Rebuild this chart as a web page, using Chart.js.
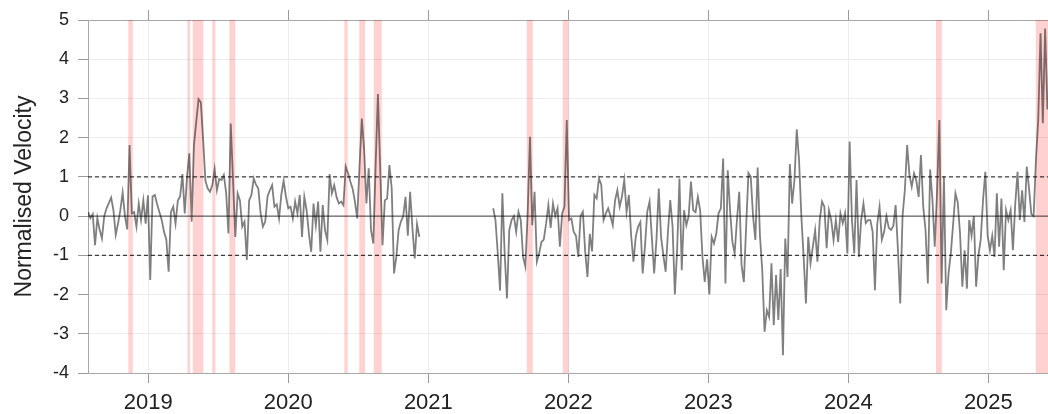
<!DOCTYPE html>
<html>
<head>
<meta charset="utf-8">
<script src="https://cdn.jsdelivr.net/npm/chart.js@4.4.1/dist/chart.umd.min.js"></script>
<style>
  html, body { margin: 0; padding: 0; background: #fff; }
</style>
</head>
<body>
<canvas id="velocityChart" width="1048" height="414"></canvas>
<script>
// x axis in decimal years
const yearTicks = [2019, 2020, 2021, 2022, 2023, 2024, 2025];
const yTicks = [-4, -3, -2, -1, 0, 1, 2, 3, 4, 5];
const xMin = 2018.569, xMax = 2025.426;
const stepDays = 6;

// first run of observations (mid 2018 - late 2020)
const startA = 2018.57;
const velocityA = [
  0.1, -0.05, 0.05, -0.74, -0.05, -0.35, -0.57, 0.0, 0.2, 0.33,
  0.47, 0.15, -0.48, -0.19, 0.15, 0.6, 0.0, -0.34, 1.81, 0.07,
  0.1, -0.27, 0.32, -0.1, 0.4, -0.19, 0.53, -1.63, 0.5, 0.54,
  0.3, 0.1, -0.1, -0.4, -0.6, -1.42, 0.1, 0.24, -0.19, 0.4,
  0.5, 1.07, 0.07, 1.0, 1.6, -0.14, 1.81, 2.4, 2.98, 2.9,
  1.95, 0.9, 0.7, 0.62, 0.79, 1.2, 0.66, 0.95, 0.92, 1.05,
  0.6, -0.44, 2.36, 0.9, -0.53, 0.58, 0.4, -0.27, -0.14, -1.12,
  0.4, 0.54, 0.96, 0.8, 0.7, 0.07, -0.27, -0.14, 0.5, 0.66,
  0.79, 0.24, 0.3, -0.06, 0.55, 0.9, 0.5, 0.2, 0.24, -0.06,
  0.37, 0.07, 0.54, -0.53, 0.49, 0.15, -0.45, -0.91, 0.32, -0.23,
  0.37, -0.91, 0.28, -0.36, -0.61, 1.07, 0.58, 0.79, 0.49, 0.32,
  0.37, 0.28, 1.26, 1.1, 0.88, 0.7, 0.37, -0.06, 1.26, 2.49,
  1.7, 0.32, 1.22, -0.36, -0.7, 1.3, 3.11, 1.2, -0.74, 0.4,
  0.45, 1.3, 0.7, -1.46, -1.04, -0.36, -0.14, 0.0, 0.49, -0.5,
  0.62, -0.3, -1.08, -0.2, -0.53
];

// second run of observations (mid 2021 - mid 2025)
const startB = 2021.463;
const velocityB = [
  0.2, -0.1, -0.95, -1.9, 0.58, -0.95, -2.1, -0.36, -0.1, 0.0,
  -0.4, 0.11, -0.1, -1.04, -1.29, 0.07, 2.02, -0.23, 0.62, -1.16,
  -0.95, -0.66, -0.6, -0.2, 0.28, -0.3, 0.32, 0.0, 0.2, -0.78,
  0.07, 0.24, 2.45, -0.1, -0.06, -0.4, -0.5, -1.04, 0.0, 0.11,
  -0.9, -1.55, -0.45, -0.9, 0.54, 0.45, 0.96, 0.8, -0.1, 0.07,
  0.2, 0.0, -0.23, 0.4, 0.66, 0.24, 0.5, 0.92, 0.11, 0.54,
  -0.5, -1.16, -0.53, -0.27, -0.15, -1.46, -0.78, 0.11, 0.37, -0.55,
  -1.46, -0.6, 0.7, -0.53, -1.0, -1.42, -0.4, 0.41, -0.27, -2.0,
  -0.85, 0.96, -1.38, 0.15, -0.23, 0.0, 0.88, 0.15, 0.1, 0.49,
  0.15, -1.04, -1.68, -1.1, -2.0, -0.53, -0.7, -0.45, 0.07, 0.2,
  1.47, -1.72, 1.17, 0.15, -0.65, -0.95, -0.1, 0.62, -1.25, -1.68,
  -0.27, 1.1, 1.0, 0.0, -0.61, 1.24, -0.5, -1.38, -2.95, -2.4,
  -2.57, -1.2, -2.78, -1.5, -2.65, -1.35, -3.55, -0.57, -1.55, 1.33,
  0.32, 0.92, 2.21, 1.43, 0.0, -1.04, -2.23, -0.53, -1.2, -0.78,
  -0.36, -1.16, -0.1, 0.37, 0.24, -0.82, 0.15, -0.1, -0.61, -0.1,
  -0.66, 0.07, -0.18, 0.07, -0.95, 1.9, -0.1, -0.95, 0.92, -1.04,
  -0.1, 0.32, -0.18, -0.1, -0.1, -0.4, -1.89, -0.2, 0.24, -0.6,
  -0.4, 0.0, -0.3, -0.35, -0.25, 0.28, -0.87, -2.23, 0.0, 0.66,
  1.81, 1.05, 0.75, 1.09, 0.9, 0.49, 1.56, 0.24, -0.36, -1.72,
  1.19, 0.41, -0.78, 0.6, 2.45, -1.72, 1.0, -2.4, -1.46, -0.95,
  -0.2, 0.58, 0.35, -0.44, -1.8, -0.87, -1.85, -0.1, -0.5, 0.0,
  -1.8, -1.0, -0.6, 0.41, 1.13, -0.5, -0.87, -0.5, -1.04, 0.58,
  -0.78, 0.45, -1.38, 0.15, -0.1, 0.15, -0.87, 0.3, 1.13, -0.1,
  0.66, -0.15, 1.26, 0.7, 0.05, 0.0, 1.43, 2.45, 4.66, 2.37,
  4.78, 2.72
];

// highlighted event periods
const bandStart = [2018.857, 2019.279, 2019.317, 2019.457, 2019.579, 2020.400,
                   2020.507, 2020.610, 2021.703, 2021.960, 2024.626, 2025.339];
const bandEnd   = [2018.889, 2019.298, 2019.393, 2019.479, 2019.621, 2020.424,
                   2020.548, 2020.667, 2021.746, 2022.003, 2024.667, 2025.430];

// threshold lines
const dashedLevels = [1, -1];
const zeroLevel = 0;

function toPoints(start, values) {
  return values.map((v, i) => ({ x: start + i * stepDays / 365.25, y: v }));
}

const overlays = {
  id: 'overlays',
  beforeDatasetsDraw(chart) {
    const { ctx, chartArea, scales } = chart;
    ctx.save();
    ctx.beginPath();
    ctx.rect(chartArea.left, chartArea.top, chartArea.right - chartArea.left, chartArea.bottom - chartArea.top);
    ctx.clip();
    ctx.fillStyle = 'rgba(255, 0, 0, 0.18)';
    bandStart.forEach((s, k) => {
      const x0 = scales.x.getPixelForValue(s);
      const x1 = scales.x.getPixelForValue(bandEnd[k]);
      ctx.fillRect(x0, chartArea.top, x1 - x0, chartArea.bottom - chartArea.top);
    });
    // zero line
    ctx.strokeStyle = 'rgba(0, 0, 0, 0.6)';
    ctx.lineWidth = 1.2;
    let y0 = scales.y.getPixelForValue(zeroLevel);
    ctx.beginPath();
    ctx.moveTo(chartArea.left, y0);
    ctx.lineTo(chartArea.right, y0);
    ctx.stroke();
    // +/- 1 dashed
    ctx.strokeStyle = 'rgba(0, 0, 0, 0.75)';
    ctx.setLineDash([4, 3]);
    dashedLevels.forEach((lv) => {
      const yy = scales.y.getPixelForValue(lv);
      ctx.beginPath();
      ctx.moveTo(chartArea.left, yy);
      ctx.lineTo(chartArea.right, yy);
      ctx.stroke();
    });
    ctx.restore();
  }
};

const lineStyle = {
  borderColor: 'rgba(0, 0, 0, 0.5)',
  borderWidth: 1.8,
  pointRadius: 0,
  tension: 0,
  fill: false
};

const ctx = document.getElementById('velocityChart').getContext('2d');
new Chart(ctx, {
  type: 'line',
  data: {
    datasets: [
      Object.assign({ label: 'A', data: toPoints(startA, velocityA) }, lineStyle),
      Object.assign({ label: 'B', data: toPoints(startB, velocityB) }, lineStyle)
    ]
  },
  options: {
    responsive: false,
    animation: false,
    devicePixelRatio: 1,
    layout: { padding: 0 },
    plugins: {
      legend: { display: false },
      tooltip: { enabled: false }
    },
    scales: {
      x: {
        type: 'linear',
        position: 'bottom',
        min: xMin,
        max: xMax,
        afterBuildTicks: (scale) => { scale.ticks = yearTicks.map((v) => ({ value: v })); },
        afterFit: (scale) => { scale.height = 41; },
        grid: { color: '#ededed', tickColor: '#9a9a9a', tickLength: 10 },
        border: { color: '#a8a8a8' },
        ticks: {
          callback: (v) => String(v),
          color: '#222',
          padding: 7,
          maxRotation: 0,
          font: { family: 'Liberation Sans, Arial, sans-serif', size: 22 }
        }
      },
      xTop: {
        type: 'linear',
        position: 'top',
        min: xMin,
        max: xMax,
        afterBuildTicks: (scale) => { scale.ticks = yearTicks.map((v) => ({ value: v })); },
        afterFit: (scale) => { scale.height = 20; },
        grid: { drawOnChartArea: false, tickColor: '#9a9a9a', tickLength: 10 },
        border: { color: '#a8a8a8' },
        ticks: { callback: () => '', padding: 0 }
      },
      y: {
        type: 'linear',
        min: -4,
        max: 5,
        afterBuildTicks: (scale) => { scale.ticks = yTicks.map((v) => ({ value: v })); },
        afterFit: (scale) => { scale.width = 88; },
        grid: { color: '#ededed', tickColor: '#9a9a9a', tickLength: 10 },
        border: { color: '#a8a8a8' },
        ticks: {
          color: '#222',
          padding: 9,
          font: { family: 'Liberation Sans, Arial, sans-serif', size: 18 }
        },
        title: {
          display: true,
          text: 'Normalised Velocity',
          color: '#222',
          padding: { top: 11, bottom: 0 },
          font: { family: 'Liberation Sans, Arial, sans-serif', size: 23 }
        }
      }
    }
  },
  plugins: [overlays]
});
</script>
</body>
</html>
